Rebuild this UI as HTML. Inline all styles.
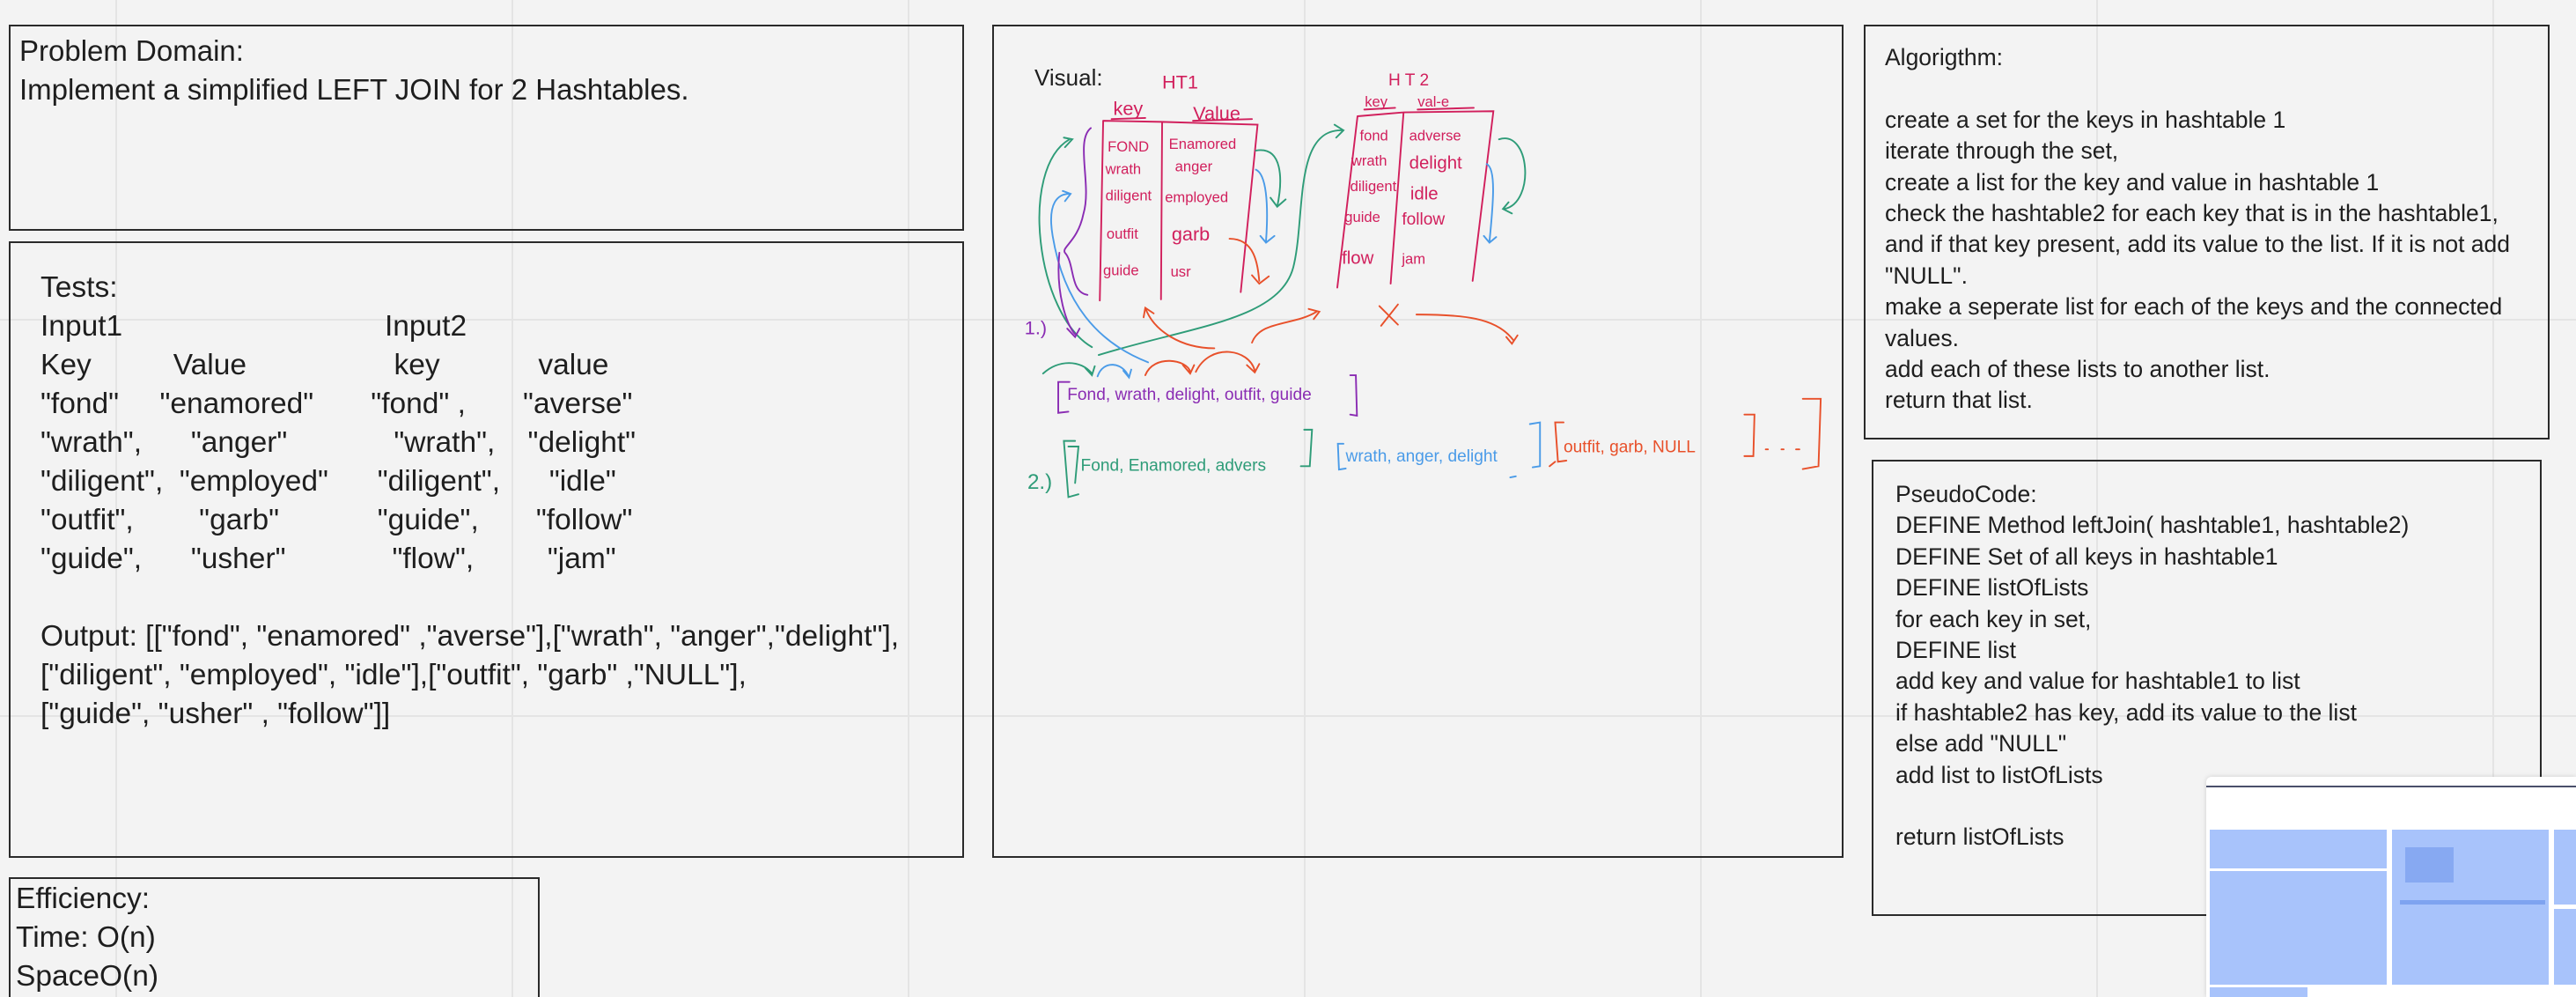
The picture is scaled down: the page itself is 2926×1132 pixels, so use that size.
<!DOCTYPE html>
<html><head><meta charset="utf-8"><style>
html,body{margin:0;padding:0;width:2926px;height:1132px;overflow:hidden}
body{position:relative;background:#f3f3f3;font-family:"Liberation Sans",sans-serif;color:#1e1e1e;
background-image:linear-gradient(90deg,#e4e4e4 2px,transparent 2px),linear-gradient(#e4e4e4 2px,transparent 2px);background-size:450px 450px;background-position:131px 362px}
.box{position:absolute;border:2px solid #2a2a2a;box-sizing:border-box}
.t{position:absolute;white-space:pre;font-size:33.5px;line-height:44px}
.s{position:absolute;white-space:pre;font-size:26.5px;line-height:35.4px}
</style></head><body>
<div class="box" style="left:10px;top:28px;width:1085px;height:234px"></div>
<div class="t" style="left:22px;top:36px;font-size:33px">Problem Domain:
Implement a simplified LEFT JOIN for 2 Hashtables.</div>
<div class="box" style="left:10px;top:274px;width:1085px;height:700px"></div>
<div class="t" style="left:46px;top:305px">Tests:
Input1                                Input2
Key          Value                  key            value
"fond"     "enamored"       "fond" ,       "averse"
"wrath",      "anger"             "wrath",    "delight"
"diligent",  "employed"      "diligent",      "idle"
"outfit",        "garb"            "guide",       "follow"
"guide",      "usher"             "flow",         "jam"

Output: [["fond", "enamored" ,"averse"],["wrath", "anger","delight"],
["diligent", "employed", "idle"],["outfit", "garb" ,"NULL"],
["guide", "usher" , "follow"]]</div>
<div class="box" style="left:10px;top:996px;width:603px;height:136px;border-bottom:none"></div>
<div class="t" style="left:18px;top:999px">Efficiency:
Time: O(n)
SpaceO(n)</div>
<div class="box" style="left:1127px;top:28px;width:967px;height:946px"></div>
<div style="position:absolute;left:1175px;top:73px;font-size:26px">Visual:</div>
<svg style="position:absolute;left:1100px;top:0" width="1000" height="1000" viewBox="0 0 1568 1568" fill="none" stroke-width="3" stroke-linecap="round" font-family="Liberation Sans, sans-serif">
<g stroke="#d11f5c"><path d="M240 215 L234 535 M240 215 L345 217 L515 222 L485 520 M345 217 L343 533 M693 207 L657 512 M693 207 L775 200 L935 198 L898 500 M775 200 L752 505 M255 212 L315 210 M400 215 L505 212 M705 195 L760 192 M800 195 L900 192"/></g>
<g fill="#d11f5c" font-size="26"><text x="345" y="158" font-size="34">HT1</text><text x="258" y="205" font-size="34">key</text><text x="400" y="213" font-size="34">Value</text>
<text x="248" y="270">FOND</text><text x="357" y="265">Enamored</text><text x="244" y="310">wrath</text><text x="368" y="305">anger</text>
<text x="244" y="357">diligent</text><text x="350" y="360">employed</text><text x="246" y="425">outfit</text><text x="362" y="428" font-size="34">garb</text>
<text x="240" y="490">guide</text><text x="360" y="492">usr</text>
<text x="748" y="152" font-size="30">H T 2</text><text x="706" y="190">key</text><text x="800" y="190">val-e</text>
<text x="697" y="250">fond</text><text x="785" y="250">adverse</text><text x="682" y="295">wrath</text><text x="785" y="300" font-size="32">delight</text>
<text x="680" y="340">diligent</text><text x="787" y="355" font-size="32">idle</text><text x="670" y="395">guide</text><text x="772" y="400" font-size="30">follow</text>
<text x="665" y="470" font-size="32">flow</text><text x="772" y="470">jam</text></g>
<g stroke="#2e9c78"><path d="M220 618 C120 560 90 300 180 248 M170 245 L185 248 L172 262 M232 632 C400 580 560 570 580 470 C600 380 580 230 665 232 M652 222 L668 232 L655 245 M512 268 C560 260 560 320 550 368 M538 352 L550 368 L565 355 M945 248 C1000 230 1010 360 955 372 M962 360 L952 372 L968 380 M133 665 C160 640 200 640 220 665 M208 655 L220 668 L225 652"/>
<text x="105" y="870" font-size="38" fill="#2e9c78" stroke="none">2.)</text>
<path d="M190 785 L170 785 L178 885 L196 880 M178 795 L196 795 L190 860"/>
<text x="200" y="838" font-size="30" fill="#2e9c78" stroke="none">Fond, Enamored, advers</text>
<path d="M598 765 L612 765 L608 830 L592 830"/></g>
<g stroke="#4a9be8"><path d="M320 645 C230 610 170 540 150 420 C140 360 160 345 180 345 M168 340 L182 345 L172 358 M512 302 C530 310 535 360 530 430 M520 420 L530 432 L545 420 M923 292 C940 300 935 360 928 430 M918 420 L928 432 L940 422 M230 670 C240 640 275 645 285 670 M276 660 L286 672 L290 658 M668 790 L658 790 L660 836 L672 834 M1000 755 L1018 752 L1018 830 L1005 832 M965 850 L975 848"/>
<text x="672" y="822" font-size="30" fill="#4a9be8" stroke="none">wrath, anger, delight</text></g>
<g stroke="#8a2cb3"><path d="M218 228 C190 250 220 330 205 380 C195 430 165 440 172 450 C190 470 180 520 212 525 M162 450 C155 520 175 580 190 595 M176 585 L190 600 L198 585 M180 680 L160 680 L160 735 L178 733 M680 668 L690 668 L692 740 L680 738"/>
<text x="100" y="595" font-size="34" fill="#8a2cb3" stroke="none">1.)</text>
<text x="176" y="712" font-size="30" fill="#8a2cb3" stroke="none">Fond, wrath, delight, outfit, guide</text></g>
<g stroke="#e8502a"><path d="M438 620 C380 620 330 590 315 548 M312 565 L315 548 L330 558 M505 610 C520 570 580 580 620 555 M606 550 L625 555 L615 568 M732 545 L765 578 M765 542 L735 580 M798 560 C880 560 940 565 970 605 M958 600 L968 612 L978 597 M465 425 C510 425 515 470 518 500 M505 490 L518 505 L535 492 M315 668 C330 630 390 640 395 662 M382 650 L395 665 L402 650 M405 662 C430 610 500 620 510 660 M496 650 L510 663 L518 648 M1060 752 L1045 752 L1050 822 L1065 820 M1035 830 L1045 822 M1382 738 L1400 738 L1398 812 L1382 812 M1486 710 L1518 710 L1514 830 L1486 835 M1420 800 h4 M1448 800 h4 M1474 800 h6"/>
<text x="1060" y="805" font-size="30" fill="#e8502a" stroke="none">outfit, garb, NULL</text></g>
</svg>
<div class="box" style="left:2117px;top:28px;width:779px;height:471px"></div>
<div class="s" style="left:2141px;top:48px">Algorigthm:

create a set for the keys in hashtable 1
iterate through the set,
create a list for the key and value in hashtable 1
check the hashtable2 for each key that is in the hashtable1,
and if that key present, add its value to the list. If it is not add
"NULL".
make a seperate list for each of the keys and the connected
values.
add each of these lists to another list.
return that list.</div>
<div class="box" style="left:2126px;top:522px;width:761px;height:518px"></div>
<div class="s" style="left:2153px;top:544px">PseudoCode:
DEFINE Method leftJoin( hashtable1, hashtable2)
DEFINE Set of all keys in hashtable1
DEFINE listOfLists
for each key in set,
DEFINE list
add key and value for hashtable1 to list
if hashtable2 has key, add its value to the list
else add "NULL"
add list to listOfLists

return listOfLists</div>
<div style="position:absolute;left:2506px;top:882px;width:420px;height:250px;background:#fff;border-radius:6px 0 0 0;box-shadow:0 0 6px rgba(0,0,0,.15);overflow:hidden">
<div style="position:absolute;left:0;top:10px;width:100%;height:2px;background:#4a4f6a"></div>
<div style="position:absolute;left:4px;top:60px;width:201px;height:44px;background:#a8c3fb"></div>
<div style="position:absolute;left:4px;top:107px;width:201px;height:129px;background:#a8c3fb"></div>
<div style="position:absolute;left:211px;top:60px;width:178px;height:176px;background:#a8c3fb"></div>
<div style="position:absolute;left:226px;top:80px;width:55px;height:40px;background:#7ea3f0;opacity:.8"></div>
<div style="position:absolute;left:220px;top:140px;width:165px;height:5px;background:#7ea3f0"></div>
<div style="position:absolute;left:395px;top:60px;width:30px;height:85px;background:#a8c3fb"></div>
<div style="position:absolute;left:395px;top:150px;width:30px;height:86px;background:#a8c3fb"></div>
<div style="position:absolute;left:4px;top:239px;width:111px;height:11px;background:#a8c3fb"></div>
</div>
</body></html>
